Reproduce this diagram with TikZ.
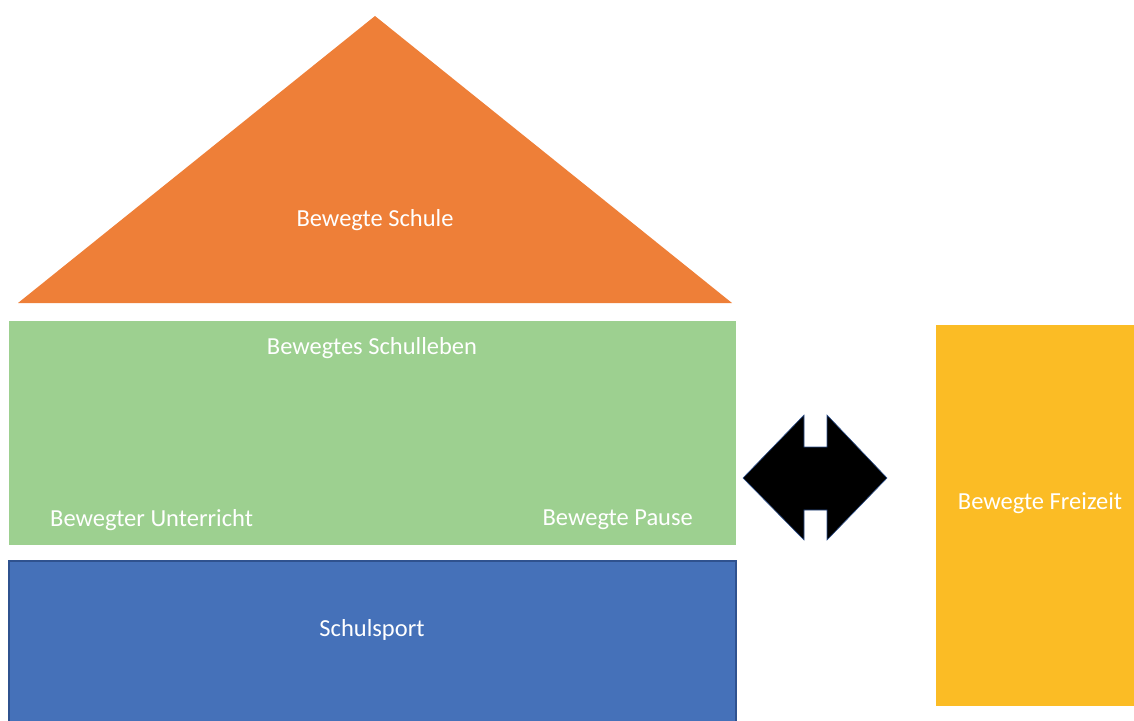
\documentclass[tikz,border=0pt]{standalone}
\usepackage{fontspec}
\setmainfont{Carlito}
\definecolor{roofcol}{HTML}{EE7F38}
\definecolor{lifecol}{HTML}{9DD090}
\definecolor{sportcol}{HTML}{4571B9}
\definecolor{sportline}{HTML}{2F528F}
\definecolor{freecol}{HTML}{FBBC25}
\begin{document}
\begin{tikzpicture}[x=1pt,y=-1pt,
  label/.style={text=white,font=\fontsize{24.5}{29}\selectfont,inner sep=0pt}]
\useasboundingbox (0,0) rectangle (1134,720);
% roof
\fill[roofcol] (375,16) -- (732,303) -- (18,303) -- cycle;
\node[label] (schule) at (375,220) {Bewegte Schule};
% school life
\fill[lifecol] (9,321) rectangle (736,545);
\node[label] (leben) at (372,348) {Bewegtes Schulleben};
\node[label,anchor=west] (unterricht) at (50,520) {Bewegter Unterricht};
\node[label,anchor=east] (pause) at (693,520) {Bewegte Pause};
% school sport
\filldraw[fill=sportcol,draw=sportline,line width=1.2pt] (9,561) rectangle (736,722);
\node[label] (sport) at (372,630) {Schulsport};
% leisure
\fill[freecol] (936,325) rectangle (1136,706);
\node[label] (freizeit) at (1040,503) {Bewegte Freizeit};
% double arrow
\filldraw[fill=black,draw=sportline,line width=0.6pt]
  (743,478) -- (804,415) -- (804,447) -- (827,447) -- (827,415)
  -- (887,478) -- (827,540) -- (827,510) -- (804,510) -- (804,540) -- cycle;
\end{tikzpicture}
\end{document}
